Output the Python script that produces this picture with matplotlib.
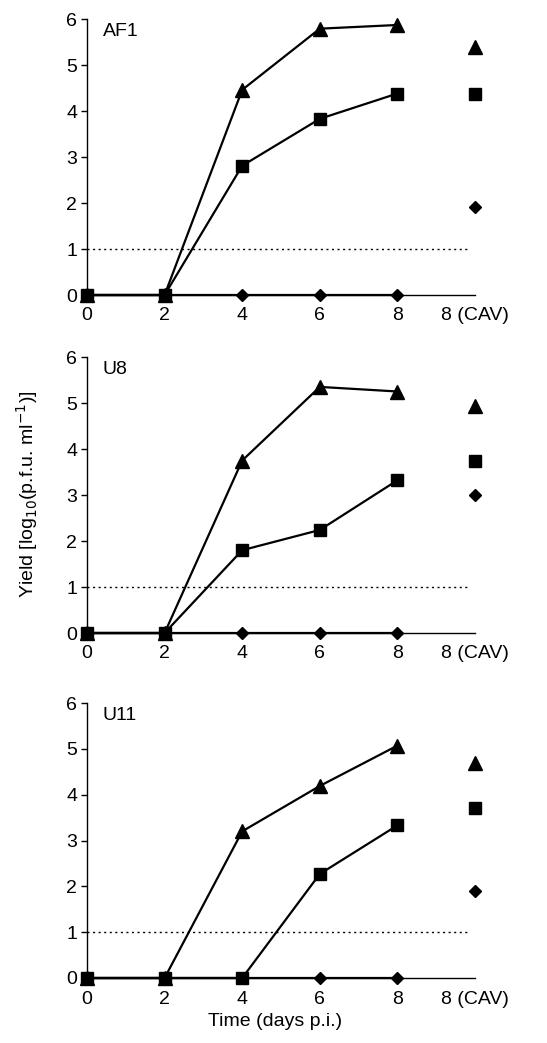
import matplotlib
matplotlib.use("Agg")
import matplotlib.pyplot as plt

plt.rcParams['font.family'] = ['Liberation Sans', 'DejaVu Sans']

positions = [0, 1, 2, 3, 4]
cav_position = 5
tick_labels = ['0', '2', '4', '6', '8', '8 (CAV)']
panel_names = ['AF1', 'U8', 'U11']

triangle_vals = [
    [0, 0, 4.46, 5.79, 5.87],
    [0, 0, 3.75, 5.35, 5.25],
    [0, 0, 3.2, 4.19, 5.07],
]
square_vals = [
    [0, 0, 2.81, 3.83, 4.38],
    [0, 0, 1.80, 2.24, 3.32],
    [0, 0, 0, 2.27, 3.33],
]
diamond_vals = [
    [0, 0, 0, 0, 0],
    [0, 0, 0, 0, 0],
    [0, 0, 0, 0, 0],
]
cav_triangle = [5.39, 4.93, 4.70]
cav_square = [4.38, 3.75, 3.72]
cav_diamond = [1.91, 3.0, 1.90]
detection_limit = 1

FS = 14

fig = plt.figure(figsize=(5.47, 10.43), dpi=100)
left = 87 / 547
width = (475 - 87) / 547
tops_bottoms = [(19, 295), (357, 633), (703, 978)]

for i, (t, b) in enumerate(tops_bottoms):
    ax = fig.add_axes([left, 1 - b / 1043, width, (b - t) / 1043])
    ax.plot(positions, triangle_vals[i], color='black', lw=1.6, marker='^',
            ms=10, clip_on=False, zorder=3)
    ax.plot(positions, square_vals[i], color='black', lw=1.6, marker='s',
            ms=9, clip_on=False, zorder=4)
    ax.plot(positions, diamond_vals[i], color='black', lw=1.6, marker='D',
            ms=6, clip_on=False, zorder=2)
    ax.plot([cav_position], [cav_triangle[i]], 'k^', ms=10, clip_on=False)
    ax.plot([cav_position], [cav_square[i]], 'ks', ms=9, clip_on=False)
    ax.plot([cav_position], [cav_diamond[i]], 'kD', ms=6, clip_on=False)
    ax.plot([0, 4.92], [detection_limit, detection_limit], color='black',
            lw=1, ls=(0, (1.5, 2.5)), zorder=1)
    ax.set_xlim(0, 5)
    ax.set_ylim(0, 6)
    ax.set_yticks(range(0, 7))
    ax.set_xticks(positions + [cav_position])
    ax.set_xticklabels(tick_labels)
    ax.set_xticks([5], minor=True)
    ax.tick_params(axis='x', which='major', length=0, pad=9, labelsize=FS)
    ax.tick_params(axis='x', which='minor', length=6, width=1, direction='out')
    ax.tick_params(axis='y', length=4, width=1, direction='out', pad=3, labelsize=FS)
    for lab in ax.get_xticklabels():
        if lab.get_text() == '8 (CAV)':
            lab.set_x(5.08)
    for s in ['top', 'right']:
        ax.spines[s].set_visible(False)
    for s in ['left', 'bottom']:
        ax.spines[s].set_linewidth(1)
    ax.text(0.2, 5.72, panel_names[i], fontsize=FS, ha='left', va='center')

fig.text(27 / 547, 0.526, 'Yield [log$_{10}$(p.f.u. ml$^{-1}$)]', rotation=90,
         ha='center', va='center', fontsize=FS)
fig.text(left + width * 0.5 - 0.01, 1 - 1022 / 1043, 'Time (days p.i.)',
         ha='center', va='center', fontsize=FS)

fig.savefig('out.png', dpi=100)
